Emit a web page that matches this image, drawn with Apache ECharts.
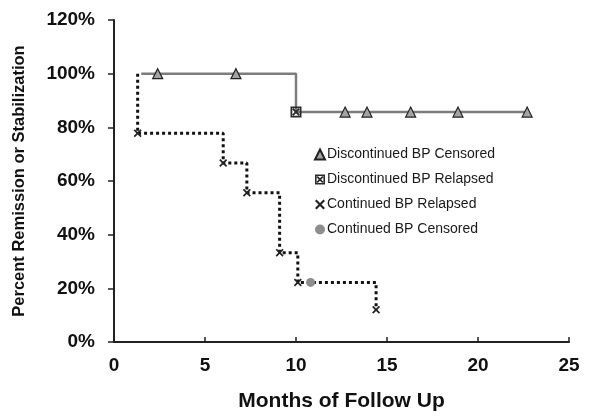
<!DOCTYPE html>
<html>
<head>
<meta charset="utf-8">
<title>Remission by BP status</title>
<script src="https://cdn.jsdelivr.net/npm/echarts@6/dist/echarts.min.js"></script>
<style>
  html, body { margin: 0; padding: 0; background: #fff; }
  #chart { width: 590px; height: 419px; }
</style>
</head>
<body>
<div id="chart"></div>
<script>
// x ticks / y ticks
const xTicks = [0, 5, 10, 15, 20, 25]
const yTicks = [0, 20, 40, 60, 80, 100, 120]

// Discontinued BP
const discStart = [1.5, 100]
const discCensoredX = [2.4, 6.7, 12.7, 13.9, 16.3, 18.9, 22.7]
const discCensoredY = [100, 100, 85.7, 85.7, 85.7, 85.7, 85.7]
const discRelapsedX = [10]
const discRelapsedY = [85.7]

// Continued BP
const contStart = [1.3, 100]
const contRelapsedX = [1.3, 6.0, 7.3, 9.1, 10.1, 14.4]
const contRelapsedY = [77.8, 66.7, 55.6, 33.3, 22.2, 12]
const contCensoredX = [10.8]
const contCensoredY = [22.2]

const legendNames = [
  'Discontinued BP Censored',
  'Discontinued BP Relapsed',
  'Continued BP Relapsed',
  'Continued BP Censored'
]

const font = '"Liberation Sans", Arial, sans-serif'

function pairs(xs, ys) {
  return xs.map((x, i) => [x, ys[i]])
}

// step curves: start point + every point where the curve changes, + last point
function stepCurve(start, xs, ys) {
  const pts = [start]
  pts.push(...pairs(xs, ys))
  pts.sort((a, b) => a[0] - b[0])
  return pts
}

const discLine = stepCurve(discStart, discRelapsedX.concat(discCensoredX), discRelapsedY.concat(discCensoredY))
const contLine = stepCurve(contStart, contRelapsedX.concat(contCensoredX), contRelapsedY.concat(contCensoredY))

// boxed X marker
const boxX = 'path://M0,0L10,0L10,10L0,10Z M1.6,1.6L1.6,8.4L8.4,8.4L8.4,1.6Z' +
  ' M1.6,2.8L2.8,1.6L8.4,7.2L7.2,8.4Z M7.2,1.6L8.4,2.8L2.8,8.4L1.6,7.2Z'
// small x marker
const crossX = 'path://M0,1.5L1.5,0L10,8.5L8.5,10Z M8.5,0L10,1.5L1.5,10L0,8.5Z'

const chart = echarts.init(document.getElementById('chart'))

const option = {
  animation: false,
  textStyle: { fontFamily: font },
  grid: { left: 114, right: 21, top: 20, bottom: 77 },
  legend: {
    orient: 'vertical',
    left: 309,
    top: 142,
    itemWidth: 10,
    itemHeight: 10,
    itemGap: 10,
    data: legendNames,
    textStyle: { fontFamily: font, fontSize: 14, color: '#1a1a1a', lineHeight: 15, padding: [0, 0, 0, -3] }
  },
  xAxis: {
    type: 'value',
    min: xTicks[0],
    max: xTicks[xTicks.length - 1],
    interval: 5,
    name: 'Months of Follow Up',
    nameLocation: 'middle',
    nameGap: 49,
    nameTextStyle: { fontFamily: font, fontSize: 21, fontWeight: 'bold', color: '#111' },
    axisLine: { lineStyle: { color: '#222', width: 2 } },
    axisTick: { inside: true, length: 5, lineStyle: { color: '#222', width: 1.5 } },
    axisLabel: { fontFamily: font, fontSize: 19, fontWeight: 'bold', color: '#111', margin: 14 },
    splitLine: { show: false }
  },
  yAxis: {
    type: 'value',
    min: yTicks[0],
    max: yTicks[yTicks.length - 1],
    interval: 20,
    name: 'Percent Remission or Stabilization',
    nameLocation: 'middle',
    nameGap: 86,
    nameTextStyle: { fontFamily: font, fontSize: 16.5, fontWeight: 'bold', color: '#111' },
    axisLine: { show: true, lineStyle: { color: '#222', width: 2 } },
    axisTick: { show: true, length: 6, lineStyle: { color: '#222', width: 1.5 } },
    axisLabel: { fontFamily: font, fontSize: 19, fontWeight: 'bold', color: '#111', margin: 19, formatter: '{value}%' },
    splitLine: { show: false }
  },
  series: [
    {
      type: 'line',
      step: 'end',
      data: discLine,
      showSymbol: false,
      silent: true,
      z: 1,
      lineStyle: { color: '#7c7c7c', width: 2.5 }
    },
    {
      type: 'line',
      step: 'end',
      data: contLine,
      showSymbol: false,
      silent: true,
      z: 1,
      lineStyle: { color: '#111', width: 3, type: [3, 3], cap: 'butt' }
    },
    {
      name: legendNames[0],
      type: 'scatter',
      data: pairs(discCensoredX, discCensoredY),
      symbol: 'triangle',
      symbolSize: 10,
      z: 3,
      itemStyle: { color: '#a3a3a3', borderColor: '#222', borderWidth: 1.2, opacity: 1 }
    },
    {
      name: legendNames[1],
      type: 'scatter',
      data: pairs(discRelapsedX, discRelapsedY),
      symbol: boxX,
      symbolSize: 11,
      z: 3,
      itemStyle: { color: '#2a2a2a', opacity: 1 }
    },
    {
      name: legendNames[2],
      type: 'scatter',
      data: pairs(contRelapsedX, contRelapsedY),
      symbol: crossX,
      symbolSize: 8,
      z: 3,
      itemStyle: { color: '#222', opacity: 1 }
    },
    {
      name: legendNames[3],
      type: 'scatter',
      data: pairs(contCensoredX, contCensoredY),
      symbol: 'circle',
      symbolSize: 9,
      z: 3,
      itemStyle: { color: '#8e8e8e', opacity: 1 }
    }
  ]
}

chart.setOption(option)
</script>
</body>
</html>
